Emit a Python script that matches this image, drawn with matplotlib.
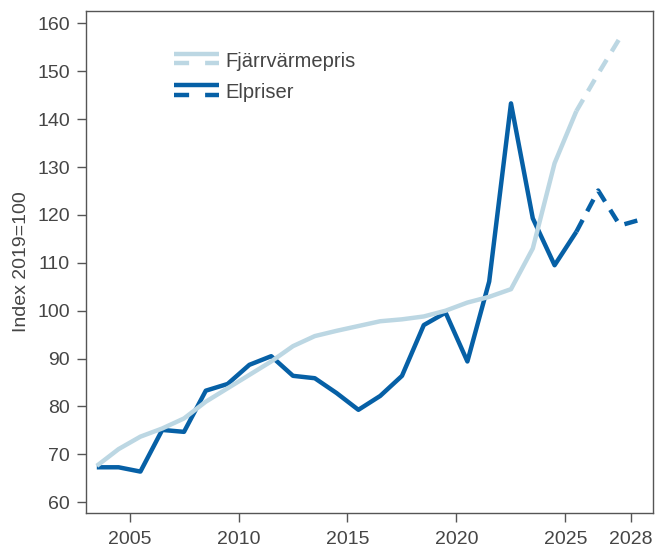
import matplotlib.pyplot as plt
import numpy as np
from matplotlib.legend_handler import HandlerBase
from matplotlib.lines import Line2D

plt.rcParams['font.family'] = ['Liberation Sans', 'DejaVu Sans']

years = np.arange(2003, 2029)
fjarrvarme = [67.6, 71.1, 73.7, 75.4, 77.5, 81.0, 83.8, 86.6, 89.4, 92.6,
              94.7, 95.8, 96.8, 97.8, 98.2, 98.8, 100.0, 101.7, 102.9, 104.5,
              113.0, 130.8, 141.7, 149.5, 157.0, np.nan]
elpriser = [67.3, 67.3, 66.4, 75.1, 74.7, 83.3, 84.7, 88.7, 90.5, 86.4,
            85.9, 82.8, 79.3, 82.2, 86.4, 97.0, 99.6, 89.4, 106.1, 143.3,
            119.3, 109.5, 116.5, 125.1, 117.8, 119.1]
forecast_from = 2025
xticks = [2005, 2010, 2015, 2020, 2025, 2028]

light = '#bcd7e3'
dark = '#0660a6'
textc = '#454545'

x = years + 0.5
hist = years <= forecast_from
fut = years >= forecast_from


class SolidDashHandler(HandlerBase):
    def create_artists(self, legend, orig_handle, xdescent, ydescent,
                       width, height, fontsize, trans):
        color = orig_handle.get_color()
        y0 = height / 2 - ydescent
        top = Line2D([-xdescent, width - xdescent], [y0 + 4.2, y0 + 4.2],
                     color=color, lw=3.2, solid_capstyle='butt')
        bot = Line2D([-xdescent, width - xdescent], [y0 - 2.5, y0 - 2.5],
                     color=color, lw=3.2, dashes=(3.4, 3.6), dash_capstyle='butt')
        for a in (top, bot):
            a.set_transform(trans)
        return [top, bot]


fig, ax = plt.subplots(figsize=(6.66, 5.49), dpi=100)
fig.subplots_adjust(left=0.129, right=0.980, bottom=0.066, top=0.980)

el = np.array(elpriser)
fv = np.array(fjarrvarme)
ax.plot(x[hist], el[hist], color=dark, lw=3.2, solid_capstyle='butt')
ax.plot(x[fut], el[fut], color=dark, lw=3.2, dashes=(3, 2.2), dash_capstyle='butt')
ax.plot(x[hist], fv[hist], color=light, lw=3.2, solid_capstyle='butt')
ax.plot(x[fut], fv[fut], color=light, lw=3.2, dashes=(3, 2.2), dash_capstyle='butt')

ax.set_xlim(2003, 2029)
ax.set_ylim(57.8, 162.6)
ax.set_xticks(xticks)
ax.set_yticks(np.arange(60, 161, 10))
ax.tick_params(direction='out', length=6.5, width=1, color='#555555',
               labelcolor=textc, labelsize=14)
ax.tick_params(axis='x', pad=6.5)
ax.tick_params(axis='y', pad=5)
for s in ax.spines.values():
    s.set_color('#555555')
    s.set_linewidth(1)
ax.set_ylabel('Index 2019=100', fontsize=14, color=textc, labelpad=5)

h1 = Line2D([], [], color=light)
h2 = Line2D([], [], color=dark)
ax.legend([h1, h2], ['Fjärrvärmepris', 'Elpriser'],
          handler_map={Line2D: SolidDashHandler()},
          loc='upper left', bbox_to_anchor=(0.124, 0.955), frameon=False,
          fontsize=14.5, labelcolor=textc, handlelength=2.2, handletextpad=0.33,
          labelspacing=0.62)

fig.savefig('out.png', dpi=100)
